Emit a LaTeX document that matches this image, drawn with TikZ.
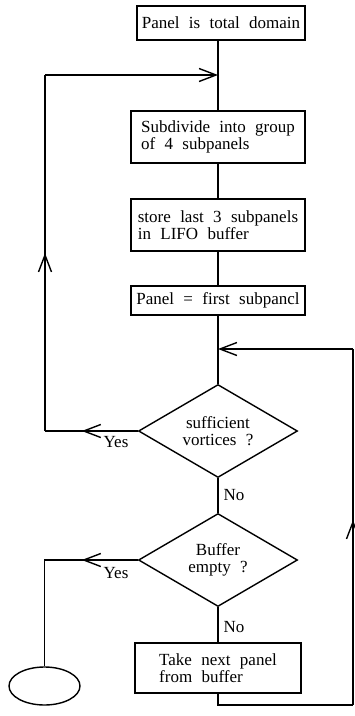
\documentclass[tikz,border=0pt]{standalone}
\usepackage{fontspec}
\setmainfont{Liberation Serif}[WordSpace=2.2]
\usetikzlibrary{arrows.meta,shapes.geometric,decorations.markings}

\tikzset{
  box/.style={draw, align=left, inner sep=0pt},
  decision/.style={draw, diamond, aspect=1.7, align=center, inner sep=0pt,
    minimum width=159, minimum height=93},
  midarrow/.style={postaction={decorate,
    decoration={markings, mark=at position #1 with {\arrow{>}}}}}
}

\begin{document}
\begin{tikzpicture}[x=1pt, y=-1pt, line width=1.4pt,
    font=\fontsize{17}{17}\selectfont,
    >={Straight Barb[length=17pt,width=13pt]}]
  \useasboundingbox (0,0) rectangle (354,716);

  \node[box, minimum width=168, minimum height=34] (domain) at (221,23) {Panel is total domain};
  \node[box, minimum width=174, minimum height=52] (subdiv) at (218,137) {Subdivide into group\\of 4 subpanels};
  \node[box, minimum width=174, minimum height=52] (store) at (218,225) {store last 3 subpanels\\in LIFO buffer};
  \node[box, minimum width=174, minimum height=29] (first) at (218,300.5) {Panel = first subpancl};
  \node[decision] (suff) at (218,431) {sufficient\\vortices ?};
  \node[decision] (buf) at (218,560) {Buffer\\empty ?};
  \node[box, minimum width=166, minimum height=50] (take) at (218,668) {Take next panel\\from buffer};
  \node[draw, ellipse, minimum width=71, minimum height=38, inner sep=0pt] (stop) at (44.5,686) {};

  % labels
  \node (yes1) at (116,442) {Yes};
  \node (yes2) at (116,573) {Yes};
  \node[anchor=west, inner sep=0pt] (no1) at (223,495) {No};
  \node[anchor=west, inner sep=0pt] (no2) at (223,627) {No};

  \coordinate (upL) at (45,431);
  \coordinate (topL) at (45,75);
  \coordinate (loopin) at (218,75);
  \coordinate (downL) at (stop.north |- buf.west);
  \coordinate (tb) at (218,705);
  \coordinate (br) at (353,705);
  \coordinate (tr) at (353,349);
  \coordinate (join) at (218,349);

  % main line
  \draw (domain.south -| subdiv.north) -- (subdiv.north);
  \draw (subdiv) -- (store);
  \draw (store) -- (first);
  \draw (first) -- (suff);
  \draw (suff) -- (buf);
  \draw (buf) -- (take);

  % back to subdivision
  \draw[midarrow=56pt] (suff.west) -- (upL);
  \draw[midarrow=178pt] (upL) -- (topL);
  \draw[->] (topL) -- (loopin);

  % to end
  \draw[midarrow=56pt] (buf.west) -- (downL) -- (stop.north);

  % next panel from buffer
  \draw (take.south) -- (tb) -- (br);
  \draw[midarrow=185pt] (br) -- (tr);
  \draw[->] (tr) -- (join);
\end{tikzpicture}
\end{document}
